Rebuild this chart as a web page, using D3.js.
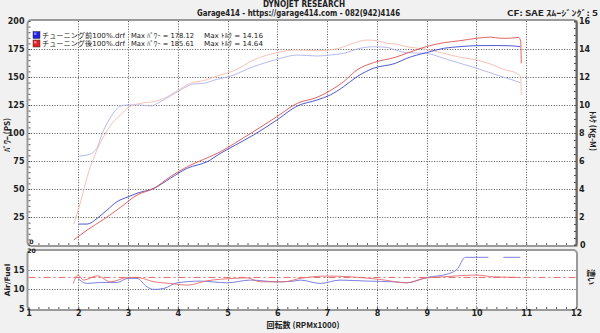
<!DOCTYPE html>
<html><head><meta charset="utf-8">
<script src="https://cdn.jsdelivr.net/npm/d3@7"></script>
<style>
html,body{margin:0;padding:0;background:#f1f1f1;}
svg{display:block;}
text{font-family:"DejaVu Sans",sans-serif;}
.jp{font-family:"Noto Sans CJK JP",sans-serif;}
.lg{font-family:"DejaVu Sans","Noto Sans CJK JP",sans-serif;}
</style></head><body>
<svg id="c" width="600" height="333"></svg>
<script>
// ---- data ----
const rpmPowerBefore = [2.01,2.18,2.38,2.58,2.78,3.01,3.18,3.52,3.85,4.19,4.59,4.86,5.16,5.52,5.99,6.40,6.80,7.06,7.33,7.60,7.93,8.37,8.60,8.99,9.34,9.67,10.01,10.41,10.68,10.88];
const powerBefore    = [18.7,18.7,23.8,31.3,38.7,43.1,46.2,50.6,59.6,68.5,74.4,81.9,89.3,98.2,111.6,124.1,129.5,133.9,141.3,150.3,157.8,162.2,166.7,171.7,175.6,177.1,178.0,178.1,177.9,177.1];
const rpmPowerAfter  = [1.91,2.18,2.51,2.85,3.18,3.52,3.85,4.19,4.52,4.86,5.16,5.52,5.99,6.40,6.80,7.06,7.33,7.60,7.93,8.37,8.60,8.99,9.34,9.67,10.01,10.28,10.48,10.68,10.85,10.89,10.90];
const powerAfter     = [4.5,13.4,22.9,33.7,44.6,50.6,61.0,69.9,76.5,83.3,91.3,101.2,114.6,126.5,131.9,137.8,145.8,156.3,162.8,167.6,171.2,177.1,180.6,182.4,184.6,185.6,184.6,184.6,185.4,181.5,162.2];
const rpmTorqueBefore = [2.01,2.18,2.35,2.51,2.68,2.85,3.01,3.25,3.45,3.65,3.85,4.05,4.32,4.52,4.79,5.02,5.52,5.99,6.40,6.80,7.06,7.33,7.66,7.93,8.20,8.37,8.60,8.99,9.34,9.67,10.01,10.41,10.68,10.88];
const torqueBefore    = [6.36,6.43,6.79,8.21,9.29,9.93,10.0,10.0,9.93,10.24,10.64,11.07,11.5,11.55,11.84,12.02,12.74,13.26,13.57,13.5,13.57,13.69,14.05,14.16,14.12,13.93,13.74,13.69,13.34,12.98,12.62,12.14,11.84,11.59];
const rpmTorqueAfter  = [1.91,2.04,2.18,2.35,2.51,2.68,2.85,3.01,3.25,3.52,3.72,3.99,4.25,4.52,4.79,5.16,5.52,5.99,6.40,6.80,7.20,7.53,7.80,8.00,8.20,8.37,8.60,8.99,9.34,9.67,10.01,10.28,10.54,10.81,10.89,10.90];
const torqueAfter     = [1.5,3.0,4.88,6.57,7.74,8.69,9.29,9.84,10.12,10.24,10.48,11.02,11.55,11.74,12.07,12.5,13.21,13.74,13.93,13.88,14.02,14.41,14.64,14.59,14.41,14.36,14.16,13.98,13.69,13.41,13.21,12.93,12.55,12.26,12.02,10.71];
const rpmAfBefore = [1.99,2.18,2.45,2.78,3.00,3.18,3.38,3.52,3.72,3.99,4.45,4.99,5.46,5.99,6.33,6.46,6.86,7.26,7.80,8.34,8.60,9.01,9.41,9.61,9.78,10.24,10.25,10.53,10.54,10.88];
const afBefore    = [12.85,11.55,11.81,11.81,12.85,12.85,10.67,10.0,10.26,11.71,12.15,11.71,12.41,11.97,12.15,12.41,11.55,12.41,12.15,11.97,11.71,13.1,13.96,15.18,18.29,18.29,null,null,18.29,18.29];
const rpmAfAfter  = [1.90,1.99,2.11,2.38,2.65,3.00,3.18,3.52,3.85,4.19,4.59,5.12,5.39,5.66,6.13,6.46,7.00,7.46,8.06,8.60,8.94,9.34,10.01,10.34,10.88];
const afAfter     = [11.55,13.7,12.41,13.52,11.97,13.1,13.1,11.97,11.55,11.11,12.23,12.85,13.0,11.97,11.97,12.85,13.45,13.26,12.59,11.71,12.85,13.26,13.7,13.26,13.1];
const afTarget = 13.1;
const rpmTicks = [1,2,3,4,5,6,7,8,9,10,11,12];
const powerTicks = [25,50,75,100,125,150,175,200];
const torqueTicks = [2,4,6,8,10,12,14,16];
const afTicks = [5,10,15];
const legendNames = ["チューニング前100%.drf","チューニング後100%.drf"];
const legendMaxPower = ["178.12","185.61"];
const legendMaxTorque = ["14.16","14.64"];

// ---- layout ----
const svg = d3.select("#c");
const X0 = 28.5, X1 = 576;
const x = d3.scaleLinear().domain([1,12]).range([X0,X1]);
const yP = d3.scaleLinear().domain([0,200]).range([245,21]);
const yT = d3.scaleLinear().domain([0,16]).range([245,21]);
const yA = d3.scaleLinear().domain([5,20]).range([308.8,250.7]);

const cBlueP="#3c46cc", cRedP="#dc5050", cBlueT="#aeb2ea", cRedT="#f4baaf", cBlueA="#7070dc", cRedA="#e46a6a";

// panels
svg.append("rect").attr("x",X0-1).attr("y",20).attr("width",X1-X0+2).attr("height",226)
  .attr("rx",4).attr("fill","#fff").attr("stroke","#9a9a9a").attr("stroke-width",2);
svg.append("rect").attr("x",X0-1).attr("y",250).attr("width",X1-X0+2).attr("height",60)
  .attr("rx",4).attr("fill","#fff").attr("stroke","#9a9a9a").attr("stroke-width",2);

const grid = svg.append("g").attr("stroke","#555").attr("stroke-width",1).attr("stroke-dasharray","1,1.6");
rpmTicks.slice(1,-1).forEach(r=>{
  grid.append("line").attr("x1",Math.round(x(r))+0.5).attr("x2",Math.round(x(r))+0.5).attr("y1",21).attr("y2",245);
  grid.append("line").attr("x1",Math.round(x(r))+0.5).attr("x2",Math.round(x(r))+0.5).attr("y1",251).attr("y2",309);
});
powerTicks.slice(0,-1).forEach(p=>{
  grid.append("line").attr("x1",X0).attr("x2",X1).attr("y1",Math.round(yP(p))+0.5).attr("y2",Math.round(yP(p))+0.5);
});
[10,15].forEach(a=>{
  grid.append("line").attr("x1",X0).attr("x2",X1).attr("y1",Math.round(yA(a))+0.5).attr("y2",Math.round(yA(a))+0.5);
});
svg.append("line").attr("x1",X0).attr("x2",X1).attr("y1",yA(afTarget)).attr("y2",yA(afTarget))
  .attr("stroke",cRedA).attr("stroke-width",1).attr("stroke-dasharray","7,3,2,3");

// axes
function styleAxis(g){ g.select(".domain").remove(); g.selectAll("text").attr("font-size",8).attr("font-weight","bold").attr("fill","#222"); g.selectAll("line").attr("stroke","#444"); }
svg.append("g").attr("transform",`translate(${X0},0)`)
  .call(d3.axisLeft(yP).tickValues(d3.range(0,201,5)).tickSize(-2).tickFormat(""))
  .call(g=>{g.select(".domain").remove(); g.selectAll("line").attr("stroke","#555");});
svg.append("g").attr("transform",`translate(${X0-3},0)`)
  .call(d3.axisLeft(yP).tickValues(powerTicks).tickSize(0).tickPadding(1)).call(styleAxis);
svg.append("g").attr("transform",`translate(${X1},0)`)
  .call(d3.axisRight(yT).tickValues(d3.range(0,16.01,0.5)).tickSize(-2).tickFormat(""))
  .call(g=>{g.select(".domain").attr("stroke","#666").attr("stroke-width",2); g.selectAll("line").attr("stroke","#555");});
svg.append("g").attr("transform",`translate(${X1+2},0)`)
  .call(d3.axisRight(yT).tickValues(torqueTicks).tickSize(0).tickPadding(1)).call(styleAxis);
svg.append("text").attr("x",X1+4).attr("y",yT(0)+3).attr("font-size",8).attr("font-weight","bold").attr("fill","#222").text("0");
svg.append("g").attr("transform",`translate(0,245)`)
  .call(d3.axisBottom(x).tickValues(d3.range(1,12.01,0.2)).tickSize(-2).tickFormat(""))
  .call(g=>{g.select(".domain").remove(); g.selectAll("line").attr("stroke","#666");});
svg.append("g").attr("transform",`translate(${X0-3},0)`)
  .call(d3.axisLeft(yA).tickValues(afTicks).tickSize(0).tickPadding(1)).call(styleAxis);
svg.append("text").attr("x",X0+3).attr("y",253.2).attr("text-anchor","middle").attr("font-size",6.2).attr("font-weight","bold").attr("fill","#222").text("20");
svg.append("text").attr("x",X0+3).attr("y",244).attr("text-anchor","middle").attr("font-size",6.2).attr("font-weight","bold").attr("fill","#222").text("0");
svg.append("g").attr("transform",`translate(0,309)`)
  .call(d3.axisBottom(x).tickValues(d3.range(1,12.01,0.2)).tickSize(-2).tickFormat(""))
  .call(g=>{g.select(".domain").remove(); g.selectAll("line").attr("stroke","#555");});
svg.append("g").attr("transform",`translate(0,309)`)
  .call(d3.axisBottom(x).tickValues(rpmTicks).tickSize(0).tickPadding(1)).call(styleAxis);

// curves
function draw(xs, ys, yScale, color, w){
  const data = xs.map((r,i)=>[r,ys[i]]);
  const line = d3.line().defined(d=>d[1]!==null).x(d=>x(d[0])).y(d=>yScale(d[1])).curve(d3.curveMonotoneX);
  svg.append("path").datum(data).attr("d",line).attr("fill","none").attr("stroke",color).attr("stroke-width",w);
}
draw(rpmTorqueBefore, torqueBefore, yT, cBlueT, 0.9);
draw(rpmTorqueAfter, torqueAfter, yT, cRedT, 0.9);
draw(rpmPowerBefore, powerBefore, yP, cBlueP, 0.9);
draw(rpmPowerAfter, powerAfter, yP, cRedP, 0.9);
draw(rpmAfBefore, afBefore, yA, cBlueA, 0.9);
draw(rpmAfAfter, afAfter, yA, cRedA, 0.9);

// legend
const swc = [["#2020e0","#8080ff"],["#e02020","#ff8080"]];
legendNames.forEach((n,i)=>{
  const y0 = 31.5 + i*8.5;
  svg.append("rect").attr("x",33).attr("y",y0).attr("width",7).attr("height",7).attr("fill",swc[i][0]).attr("stroke","#333").attr("stroke-width",0.5);
  svg.append("rect").attr("x",34).attr("y",y0+1).attr("width",2.5).attr("height",2.5).attr("fill",swc[i][1]);
  svg.append("text").attr("class","lg").attr("x",42).attr("y",y0+6).attr("font-size",6.8).attr("fill","#222")
    .attr("textLength",83).attr("lengthAdjust","spacingAndGlyphs").text(n);
  svg.append("text").attr("class","lg").attr("x",131).attr("y",y0+6).attr("font-size",6.8).attr("fill","#222")
    .attr("textLength",63).attr("lengthAdjust","spacingAndGlyphs").text("Max ﾊﾟﾜｰ = "+legendMaxPower[i]);
  svg.append("text").attr("class","lg").attr("x",204).attr("y",y0+6).attr("font-size",6.8).attr("fill","#222")
    .attr("textLength",59).attr("lengthAdjust","spacingAndGlyphs").text("Max ﾄﾙｸ = "+legendMaxTorque[i]);
});

// header texts
svg.append("text").attr("x",304).attr("y",7).attr("text-anchor","middle").attr("font-size",8).attr("font-weight","bold").attr("fill","#222")
  .attr("textLength",82).attr("lengthAdjust","spacingAndGlyphs").text("DYNOJET  RESEARCH");
svg.append("text").attr("x",197).attr("y",15.5).attr("font-size",8).attr("font-weight","bold").attr("fill","#222")
  .attr("textLength",203).attr("lengthAdjust","spacingAndGlyphs").text("Garage414 - https://garage414.com - 082(942)4146");
svg.append("text").attr("class","jp").attr("x",507).attr("y",15.5).attr("font-size",8).attr("font-weight","bold").attr("fill","#222")
  .attr("textLength",91).attr("lengthAdjust","spacingAndGlyphs").text("CF: SAE   ｽﾑｰｼﾞﾝｸﾞ: 5");

// axis titles
svg.append("text").attr("class","jp").attr("transform","translate(10,135) rotate(-90)").attr("text-anchor","middle")
  .attr("font-size",8).attr("font-weight","bold").attr("fill","#222").text("ﾊﾟﾜｰ (PS)");
svg.append("text").attr("class","jp").attr("transform","translate(590,131) rotate(90)").attr("text-anchor","middle")
  .attr("font-size",8).attr("font-weight","bold").attr("fill","#222").text("ﾄﾙｸ (Kg-M)");
svg.append("text").attr("transform","translate(10,280) rotate(-90)").attr("text-anchor","middle")
  .attr("font-size",7.5).attr("font-weight","bold").attr("fill","#222").text("Air/Fuel");
svg.append("text").attr("class","jp").attr("transform","translate(588,277) rotate(90)").attr("text-anchor","middle")
  .attr("font-size",8).attr("font-weight","bold").attr("fill","#222").text("濃い");
svg.append("text").attr("class","jp").attr("x",303).attr("y",328).attr("text-anchor","middle")
  .attr("font-size",8).attr("font-weight","bold").attr("fill","#222").text("回転数 (RPMx1000)");
</script>
</body></html>
